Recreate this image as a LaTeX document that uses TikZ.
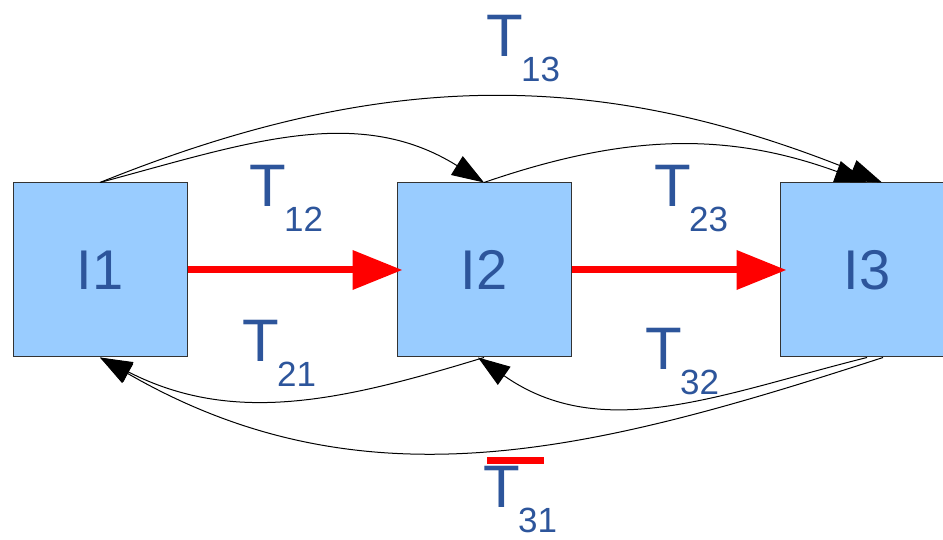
\documentclass[tikz,border=0pt]{standalone}
\usepackage{fontspec}
\setmainfont{Liberation Sans}
\usetikzlibrary{arrows.meta}
\definecolor{boxblue}{RGB}{153,204,255}
\definecolor{labblue}{RGB}{45,85,155}
\newcommand{\tsub}[1]{T\kern-1pt\raisebox{-12.5pt}{\fontsize{17.5}{17.5}\selectfont #1}}

\begin{document}
\begin{tikzpicture}[x=0.5pt,y=0.5pt]
\tikzstyle{box}=[draw=black!80, fill=boxblue, line width=0.5pt, minimum width=87pt, minimum height=87pt, inner sep=0, text=labblue, font=\fontsize{28}{28}\selectfont]
\tikzstyle{tlab}=[anchor=base west, inner sep=0, text=labblue, font=\fontsize{30}{30}\selectfont]
\tikzstyle{tarrow}=[line width=0.5pt, -{Triangle[length=16pt,width=11pt]}]
\tikzstyle{redarrow}=[red, line width=3.5pt, -{Triangle[length=25pt,width=19pt]}]

\useasboundingbox (0,0) rectangle (943,540);

\node[box] (i1) at (100,270) {I1};
\node[box] (i2) at (484,270) {I2};
\node[box] (i3) at (867,270) {I3};

\node[tlab] (t13) at (486,483) {\tsub{13}};
\node[tlab] (t12) at (249,333) {\tsub{12}};
\node[tlab] (t23) at (654,333) {\tsub{23}};
\node[tlab] (t21) at (242,178) {\tsub{21}};
\node[tlab] (t32) at (645,170) {\tsub{32}};
\node[tlab] (t31) at (483,32) {\tsub{31}};

% bar over T31
\draw[red, line width=3.5pt] (487,79) -- (544,79);

\coordinate (e13) at ([xshift=7.5pt]i3.north);
\coordinate (e31) at ([xshift=8pt]i3.south);
\coordinate (e32) at ([xshift=-3pt]i2.south);

\foreach \from/\to/\o/\i in {i1.north/i2.north/15/148, i1.north/e13/22/158, i2.north/i3.north/19/160,
  i2.south/i1.south/197/-27, i3.south/e32/194/-35, e31/i1.south/198/-30}
\draw [tarrow] (\from) to[out=\o,in=\i] (\to);

\draw[redarrow] (i1.east) -- ([xshift=3pt]i2.west);
\draw[redarrow] (i2.east) -- ([xshift=3.5pt]i3.west);

\end{tikzpicture}
\end{document}
